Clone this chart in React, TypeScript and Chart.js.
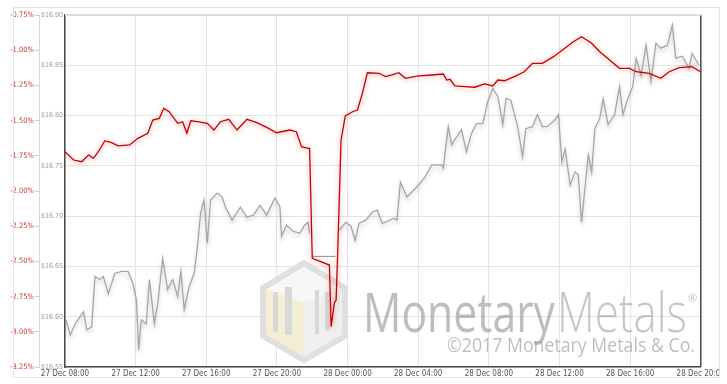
import React, { useEffect, useRef } from 'react';
import { Chart, registerables } from 'chart.js';

Chart.register(...registerables);

const xTickLabels = [
  '27 Dec 08:00', '27 Dec 12:00', '27 Dec 16:00', '27 Dec 20:00', '28 Dec 00:00',
  '28 Dec 04:00', '28 Dec 08:00', '28 Dec 12:00', '28 Dec 16:00', '28 Dec 20:00',
];

// hours after 27 Dec 08:00
const pctHours = [0, 0.49, 0.95, 1.33, 1.61, 1.89, 2.26, 2.64, 3.01, 3.66, 4.13, 4.69, 4.97, 5.34, 5.59, 5.9, 6.38, 6.66, 6.9, 7.12, 7.5, 8.06, 8.43, 8.8, 9.27, 9.74, 10.3, 10.86, 11.42, 11.98, 12.73, 13.1, 13.39, 13.76, 13.85, 14.0, 14.97, 15.07, 15.25, 15.35, 15.44, 15.63, 15.87, 16.28, 16.56, 16.84, 17.12, 17.78, 18.15, 18.52, 18.9, 19.27, 20.02, 20.77, 21.42, 21.61, 21.8, 22.08, 22.64, 23.2, 23.76, 24.22, 24.51, 24.88, 25.44, 26.0, 26.47, 27.03, 27.66, 28.41, 28.78, 29.25, 29.82, 30.28, 30.84, 31.4, 31.96, 32.34, 33.08, 33.74, 34.21, 34.77, 35.51, 35.98];
const pctValues = [-1.721, -1.78, -1.792, -1.744, -1.766, -1.721, -1.643, -1.657, -1.68, -1.673, -1.626, -1.59, -1.496, -1.484, -1.413, -1.437, -1.519, -1.508, -1.59, -1.501, -1.508, -1.519, -1.567, -1.508, -1.491, -1.567, -1.491, -1.515, -1.548, -1.586, -1.567, -1.579, -1.685, -1.697, -1.697, -2.478, -2.526, -2.964, -2.795, -2.774, -2.44, -1.638, -1.467, -1.437, -1.425, -1.306, -1.16, -1.164, -1.188, -1.176, -1.16, -1.2, -1.183, -1.176, -1.169, -1.212, -1.207, -1.254, -1.259, -1.263, -1.24, -1.254, -1.212, -1.217, -1.188, -1.153, -1.093, -1.093, -1.046, -0.975, -0.94, -0.904, -0.951, -1.011, -1.07, -1.129, -1.129, -1.153, -1.164, -1.2, -1.153, -1.124, -1.117, -1.153];

const priceHours = [0.06, 0.3, 0.58, 0.86, 1.05, 1.23, 1.51, 1.7, 1.98, 2.17, 2.45, 2.82, 3.2, 3.57, 3.85, 4.04, 4.17, 4.32, 4.6, 4.78, 5.06, 5.25, 5.53, 5.81, 6.1, 6.38, 6.56, 6.75, 7.03, 7.31, 7.5, 7.68, 7.87, 8.06, 8.24, 8.62, 8.9, 9.08, 9.46, 9.93, 10.3, 10.67, 11.05, 11.42, 11.89, 12.17, 12.26, 12.54, 12.91, 13.29, 13.57, 13.76, 13.85, 14.7, 15.53, 15.91, 16.19, 16.43, 16.65, 17.03, 17.4, 17.68, 17.96, 18.15, 18.62, 18.8, 18.99, 19.36, 19.64, 20.02, 20.39, 20.77, 21.33, 21.42, 21.7, 21.89, 22.26, 22.45, 22.73, 23.01, 23.29, 23.66, 23.94, 24.22, 24.51, 24.79, 24.97, 25.25, 25.44, 25.63, 25.91, 26.09, 26.47, 26.75, 27.03, 27.29, 27.76, 27.94, 28.13, 28.32, 28.6, 28.88, 29.06, 29.25, 29.44, 29.63, 29.82, 30.0, 30.28, 30.47, 30.75, 31.12, 31.4, 31.59, 31.87, 32.15, 32.34, 32.62, 32.9, 33.18, 33.46, 33.74, 34.11, 34.39, 34.58, 34.95, 35.33, 35.51, 35.89];
const priceValues = [16.597, 16.582, 16.593, 16.6, 16.605, 16.587, 16.59, 16.64, 16.637, 16.64, 16.623, 16.643, 16.645, 16.645, 16.633, 16.617, 16.567, 16.597, 16.593, 16.637, 16.593, 16.613, 16.658, 16.627, 16.637, 16.62, 16.645, 16.607, 16.63, 16.643, 16.67, 16.703, 16.716, 16.673, 16.716, 16.723, 16.719, 16.709, 16.696, 16.709, 16.699, 16.701, 16.711, 16.701, 16.718, 16.709, 16.68, 16.691, 16.685, 16.683, 16.691, 16.694, 16.683, null, 16.686, 16.694, 16.69, 16.676, 16.693, 16.696, 16.704, 16.706, 16.693, 16.694, 16.698, 16.696, 16.734, 16.719, 16.724, 16.731, 16.739, 16.751, 16.751, 16.748, 16.789, 16.771, 16.781, 16.786, 16.764, 16.782, 16.792, 16.792, 16.814, 16.827, 16.819, 16.791, 16.817, 16.815, 16.802, 16.789, 16.759, 16.787, 16.789, 16.801, 16.789, 16.789, 16.796, 16.801, 16.754, 16.767, 16.731, 16.744, 16.741, 16.694, 16.728, 16.761, 16.744, 16.787, 16.797, 16.817, 16.791, 16.801, 16.829, 16.801, 16.817, 16.829, 16.857, 16.84, 16.87, 16.834, 16.872, 16.867, 16.87, 16.89, 16.857, 16.859, 16.847, 16.862, 16.85];

const gapHours = [14.02, 15.31];
const gapValues = [16.66, 16.66];

const pctTicks = { min: -3.25, max: -0.75, step: 0.25 };
const priceTicks = { min: 16.55, max: 16.9, step: 0.05 };
const xRange = { min: 0, max: 36, step: 4 };

const tickFont = "'Liberation Sans Narrow', 'DejaVu Sans Condensed', Arial, sans-serif";

const zip = (xs: number[], ys: (number | null)[]) =>
  xs.map((x, i) => ({ x, y: ys[i] }));

const fitText = (
  ctx: CanvasRenderingContext2D, text: string, x: number, baseline: number,
  width: number, font: string, color: string,
) => {
  ctx.save();
  ctx.font = font;
  const w = ctx.measureText(text).width;
  ctx.translate(x, baseline);
  ctx.scale(width / w, 1);
  ctx.fillStyle = color;
  ctx.textBaseline = 'alphabetic';
  ctx.textAlign = 'left';
  ctx.fillText(text, 0, 0);
  ctx.restore();
};

const watermarkPlugin = {
  id: 'watermark',
  beforeDatasetsDraw(chart: any) {
    const ctx: CanvasRenderingContext2D = chart.ctx;
    ctx.save();
    const cx = 304, top = 263, bot = 360, l = 263, r = 345, ut = 288, lb = 336;
    const cm = 302;
    ctx.beginPath();
    ctx.moveTo(l, ut); ctx.lineTo(cx, cm); ctx.lineTo(cx, bot); ctx.lineTo(l, lb); ctx.closePath();
    ctx.fillStyle = '#f5eed6'; ctx.fill();
    ctx.beginPath();
    ctx.moveTo(r, ut); ctx.lineTo(cx, cm); ctx.lineTo(cx, bot); ctx.lineTo(r, lb); ctx.closePath();
    ctx.fillStyle = '#efefef'; ctx.fill();
    ctx.beginPath();
    ctx.moveTo(l, ut); ctx.lineTo(cx, top); ctx.lineTo(r, ut); ctx.lineTo(cx, cm); ctx.closePath();
    ctx.fillStyle = '#f7f7f7'; ctx.fill();
    ctx.beginPath();
    ctx.moveTo(cx, top); ctx.lineTo(r, ut); ctx.lineTo(r, lb); ctx.lineTo(cx, bot); ctx.lineTo(l, lb); ctx.lineTo(l, ut); ctx.closePath();
    ctx.lineWidth = 6; ctx.strokeStyle = '#e0e0e0'; ctx.stroke();
    ctx.fillStyle = '#d8d8d8';
    ctx.fillRect(273, 292, 5, 40);
    ctx.fillRect(285, 287, 7, 48);
    ctx.fillRect(315, 290, 4, 44);
    ctx.fillRect(325, 292, 5, 38);
    fitText(ctx, 'Monetary', 363, 332, 192, '400 55px "Open Sans", sans-serif', 'rgba(150,150,150,0.62)');
    fitText(ctx, 'Metals', 557, 332, 130, '300 55px "Open Sans", sans-serif', 'rgba(160,160,160,0.6)');
    ctx.font = '11px "Open Sans", sans-serif';
    ctx.fillStyle = 'rgba(170,170,170,0.8)';
    ctx.fillText('®', 688, 302);
    fitText(ctx, '©2017 Monetary Metals & Co.', 447, 352, 248, '400 20px "Open Sans", sans-serif', 'rgba(150,150,150,0.62)');
    ctx.restore();
  },
};

const shadowPlugin = {
  id: 'lineShadow',
  beforeDatasetDraw(chart: any, args: any) {
    const ctx: CanvasRenderingContext2D = chart.ctx;
    const ds = chart.data.datasets[args.index];
    ctx.save();
    if (ds.yAxisID === 'pct') {
      ctx.shadowColor = 'rgba(235,40,40,0.5)';
      ctx.shadowBlur = 5;
      ctx.shadowOffsetY = 1;
    } else if (ds.label === 'Price') {
      ctx.shadowColor = 'rgba(0,0,0,0.22)';
      ctx.shadowBlur = 4;
      ctx.shadowOffsetY = 3;
    }
  },
  afterDatasetDraw(chart: any) {
    chart.ctx.restore();
  },
};

const framePlugin = {
  id: 'frame',
  afterDraw(chart: any) {
    const ctx: CanvasRenderingContext2D = chart.ctx;
    const { left, right, top, bottom } = chart.chartArea;
    ctx.save();
    ctx.fillStyle = '#ffffff';
    ctx.fillRect(719, 0, 8, 384);
    ctx.strokeStyle = '#4a4a4a';
    ctx.lineWidth = 1.5;
    ctx.beginPath();
    ctx.moveTo(right, top); ctx.lineTo(right, bottom);
    ctx.stroke();
    ctx.strokeStyle = '#dedede';
    ctx.lineWidth = 2;
    ctx.beginPath();
    ctx.moveTo(left, top); ctx.lineTo(right, top);
    ctx.stroke();
    ctx.strokeStyle = '#e2e2e2';
    ctx.lineWidth = 1;
    ctx.strokeRect(13.5, 7.5, 706, 370);
    ctx.restore();
  },
};

export default function App() {
  const ref = useRef<HTMLCanvasElement>(null);

  useEffect(() => {
    document.body.style.margin = '0';
    if (!ref.current) return;
    const chart = new Chart(ref.current, {
      type: 'line',
      data: {
        datasets: [
          {
            label: 'Gap',
            data: zip(gapHours, gapValues),
            yAxisID: 'price',
            borderColor: '#8a8a8a',
            borderWidth: 1,
            pointRadius: 0,
            tension: 0,
            order: 2,
          },
          {
            label: 'Price',
            data: zip(priceHours, priceValues),
            yAxisID: 'price',
            borderColor: '#a6a6a6',
            borderWidth: 1.3,
            pointRadius: 0,
            tension: 0,
            spanGaps: false,
            order: 1,
          },
          {
            label: 'Percent',
            data: zip(pctHours, pctValues),
            yAxisID: 'pct',
            borderColor: '#c40000',
            borderWidth: 1.3,
            pointRadius: 0,
            tension: 0,
            order: 0,
          },
        ],
      },
      options: {
        responsive: false,
        animation: false,
        devicePixelRatio: 1,
        layout: { padding: { left: 9, right: 20, top: 15, bottom: 5 } },
        plugins: { legend: { display: false }, tooltip: { enabled: false } },
        scales: {
          x: {
            type: 'linear',
            min: xRange.min,
            max: xRange.max,
            afterFit: (s: any) => { s.height = 12; },
            ticks: {
              stepSize: xRange.step,
              autoSkip: false,
              maxRotation: 0,
              padding: 2,
              color: '#555',
              font: { family: tickFont, size: 8 },
              callback: (v: any) => xTickLabels[Math.round(Number(v) / xRange.step)] ?? '',
            },
            grid: { color: '#e4e4e4', drawTicks: false },
            border: { color: '#4a4a4a', width: 1.5 },
          },
          pct: {
            type: 'linear',
            position: 'left',
            weight: 1,
            min: pctTicks.min,
            max: pctTicks.max,
            afterFit: (s: any) => { s.width = 30; },
            ticks: {
              stepSize: pctTicks.step,
              padding: 1,
              color: '#c43a3a',
              font: { family: tickFont, size: 7.5 },
              callback: (v: any) => Number(v).toFixed(2) + '%',
            },
            grid: { drawOnChartArea: false, tickLength: 4, color: '#cccccc' },
            border: { color: '#d6d6d6', width: 1 },
          },
          price: {
            type: 'linear',
            position: 'left',
            weight: 0,
            min: priceTicks.min,
            max: priceTicks.max,
            afterFit: (s: any) => { s.width = 26; },
            ticks: {
              stepSize: priceTicks.step,
              padding: 2,
              color: '#9a9a9a',
              font: { family: tickFont, size: 7 },
              callback: (v: any) => '$' + Number(v).toFixed(2),
            },
            grid: { color: '#e4e4e4', drawTicks: false },
            border: { color: '#4a4a4a', width: 1.5 },
          },
        },
      },
      plugins: [watermarkPlugin, shadowPlugin, framePlugin],
    });
    return () => chart.destroy();
  }, []);

  return (
    <div style={{ width: 727, height: 384, background: '#fff' }}>
      <canvas ref={ref} width={727} height={384} />
    </div>
  );
}
